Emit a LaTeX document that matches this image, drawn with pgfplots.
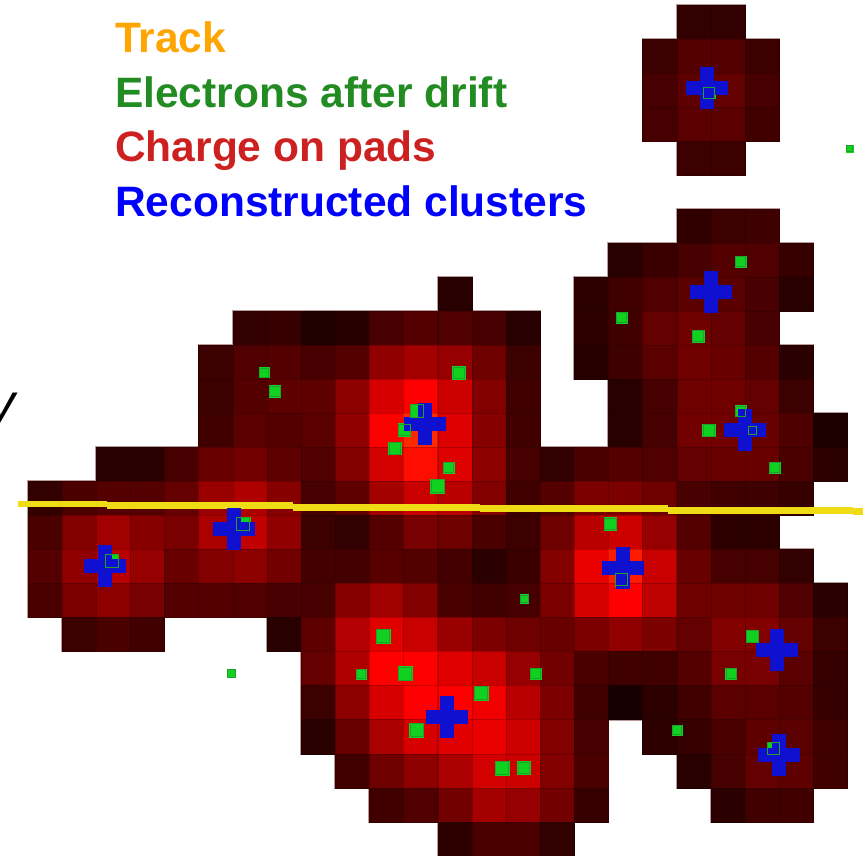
\documentclass[border=0pt]{standalone}
\usepackage{pgfplots}
\usepackage{pgfplotstable}
\usepackage{fontspec}
\setmainfont{Liberation Sans}
\pgfplotsset{compat=1.18}
\definecolor{trk}{RGB}{240,220,20}
\definecolor{elfill}{RGB}{16,208,32}
\definecolor{eledge}{RGB}{32,160,48}
\definecolor{clu}{RGB}{16,16,208}
\definecolor{padedge}{RGB}{185,155,155}
\pgfplotstableread[row sep=\\]{
c r v\\
19 0 50\\ 20 0 50\\
18 1 60\\ 19 1 85\\ 20 1 85\\ 21 1 60\\
18 2 70\\ 19 2 95\\ 20 2 100\\ 21 2 70\\
18 3 70\\ 19 3 90\\ 20 3 90\\ 21 3 65\\
19 4 60\\ 20 4 60\\
19 6 48\\ 20 6 60\\ 21 6 62\\
17 7 40\\ 18 7 58\\ 19 7 70\\ 20 7 85\\ 21 7 80\\ 22 7 55\\
12 8 40\\ 16 8 45\\ 17 8 65\\ 18 8 80\\ 19 8 90\\ 20 8 90\\ 21 8 72\\ 22 8 40\\
6 9 50\\ 7 9 55\\ 8 9 35\\ 9 9 38\\ 10 9 70\\ 11 9 85\\ 12 9 80\\ 13 9 70\\ 14 9 40\\ 16 9 45\\ 17 9 65\\ 18 9 100\\ 19 9 110\\ 20 9 100\\ 21 9 72\\
5 10 60\\ 6 10 80\\ 7 10 85\\ 8 10 70\\ 9 10 85\\ 10 10 145\\ 11 10 165\\ 12 10 150\\ 13 10 110\\ 14 10 60\\ 16 10 38\\ 17 10 62\\ 18 10 90\\ 19 10 112\\ 20 10 105\\ 21 10 85\\ 22 10 42\\
5 11 60\\ 6 11 85\\ 7 11 95\\ 8 11 95\\ 9 11 140\\ 10 11 215\\ 11 11 255\\ 12 11 205\\ 13 11 130\\ 14 11 65\\ 17 11 40\\ 18 11 70\\ 19 11 110\\ 20 11 112\\ 21 11 100\\ 22 11 60\\
5 12 65\\ 6 12 90\\ 7 12 85\\ 8 12 90\\ 9 12 145\\ 10 12 255\\ 11 12 285\\ 12 12 220\\ 13 12 135\\ 14 12 65\\ 17 12 40\\ 18 12 70\\ 19 12 115\\ 20 12 115\\ 21 12 105\\ 22 12 78\\ 23 12 28\\
2 13 40\\ 3 13 40\\ 4 13 70\\ 5 13 105\\ 6 13 115\\ 7 13 95\\ 8 13 80\\ 9 13 130\\ 10 13 210\\ 11 13 265\\ 12 13 220\\ 13 13 140\\ 14 13 70\\ 15 13 50\\ 16 13 75\\ 17 13 85\\ 18 13 80\\ 19 13 100\\ 20 13 105\\ 21 13 105\\ 22 13 75\\ 23 13 45\\
0 14 50\\ 1 14 75\\ 2 14 85\\ 3 14 85\\ 4 14 100\\ 5 14 155\\ 6 14 175\\ 7 14 135\\ 8 14 70\\ 9 14 95\\ 10 14 165\\ 11 14 200\\ 12 14 185\\ 13 14 130\\ 14 14 65\\ 15 14 85\\ 16 14 125\\ 17 14 125\\ 18 14 110\\ 19 14 72\\ 20 14 65\\ 21 14 62\\ 22 14 55\\
0 15 75\\ 1 15 130\\ 2 15 160\\ 3 15 135\\ 4 15 120\\ 5 15 170\\ 6 15 195\\ 7 15 145\\ 8 15 60\\ 9 15 50\\ 10 15 85\\ 11 15 120\\ 12 15 110\\ 13 15 75\\ 14 15 60\\ 15 15 110\\ 16 15 185\\ 17 15 205\\ 18 15 150\\ 19 15 85\\ 20 15 45\\ 21 15 45\\
0 16 85\\ 1 16 145\\ 2 16 185\\ 3 16 150\\ 4 16 105\\ 5 16 130\\ 6 16 140\\ 7 16 115\\ 8 16 68\\ 9 16 68\\ 10 16 88\\ 11 16 82\\ 12 16 68\\ 13 16 42\\ 14 16 58\\ 15 16 130\\ 16 16 235\\ 17 16 275\\ 18 16 200\\ 19 16 105\\ 20 16 70\\ 21 16 70\\ 22 16 50\\
0 17 75\\ 1 17 125\\ 2 17 140\\ 3 17 120\\ 4 17 85\\ 5 17 85\\ 6 17 80\\ 7 17 72\\ 8 17 70\\ 9 17 135\\ 10 17 160\\ 11 17 130\\ 12 17 75\\ 13 17 65\\ 14 17 70\\ 15 17 122\\ 16 17 210\\ 17 17 255\\ 18 17 190\\ 19 17 110\\ 20 17 110\\ 21 17 110\\ 22 17 80\\ 23 17 42\\
1 18 60\\ 2 18 75\\ 3 18 65\\ 7 18 40\\ 8 18 95\\ 9 18 180\\ 10 18 225\\ 11 18 200\\ 12 18 155\\ 13 18 125\\ 14 18 110\\ 15 18 105\\ 16 18 125\\ 17 18 145\\ 18 18 125\\ 19 18 100\\ 20 18 130\\ 21 18 130\\ 22 18 100\\ 23 18 60\\
8 19 100\\ 9 19 175\\ 10 19 255\\ 11 19 255\\ 12 19 225\\ 13 19 200\\ 14 19 150\\ 15 19 115\\ 16 19 75\\ 17 19 65\\ 18 19 65\\ 19 19 85\\ 20 19 120\\ 21 19 120\\ 22 19 90\\ 23 19 55\\
8 20 60\\ 9 20 140\\ 10 20 215\\ 11 20 255\\ 12 20 255\\ 13 20 240\\ 14 20 185\\ 15 20 125\\ 16 20 65\\ 17 20 25\\ 18 20 45\\ 19 20 65\\ 20 20 90\\ 21 20 90\\ 22 20 85\\ 23 20 55\\
8 21 40\\ 9 21 105\\ 10 21 170\\ 11 21 215\\ 12 21 225\\ 13 21 235\\ 14 21 205\\ 15 21 130\\ 16 21 70\\ 18 21 45\\ 19 21 55\\ 20 21 75\\ 21 21 95\\ 22 21 90\\ 23 21 65\\
9 22 65\\ 10 22 110\\ 11 22 140\\ 12 22 170\\ 13 22 210\\ 14 22 205\\ 15 22 130\\ 16 22 75\\ 19 22 40\\ 20 22 70\\ 21 22 100\\ 22 22 95\\ 23 22 65\\
10 23 65\\ 11 23 80\\ 12 23 115\\ 13 23 165\\ 14 23 150\\ 15 23 115\\ 16 23 55\\ 20 23 42\\ 21 23 65\\ 22 23 65\\
12 24 45\\ 13 24 75\\ 14 24 75\\ 15 24 50\\
}\pads
\pgfplotstableread[row sep=\\]{
x y s\\
849.5 148.5 7\\ 740.5 261.5 11\\ 621.5 317.5 11\\ 698 336 12\\ 740.5 411 11\\ 752.5 430.5 9\\
709 430.5 12.5\\ 774.5 467.5 11\\ 610.5 524 12.5\\ 621.5 579.5 13\\ 709 92.5 12\\ 112 561 13.5\\
243 524 14\\ 264 372.5 10\\ 275 391.5 11.5\\ 459 373 12.5\\ 417 411 14\\ 404.5 430 12.7\\
395 448.5 12.5\\ 448.5 467.5 11\\ 437.7 486 14\\ 524.5 599 8.5\\ 383 636 14\\ 231.5 673.5 8.5\\
361 674 10\\ 405 673.5 14\\ 535.5 673.5 11\\ 481 693 14\\ 416.7 730 14\\ 502 768 14\\ 524 768 12.5\\
752.7 636.5 12.5\\ 731 673.5 11\\ 677 730 10\\ 773.5 748.5 12.5\\
}\electrons
\pgfplotstableread[row sep=\\]{
x y\\
105 566\\ 234 529\\ 425 424\\ 623 568\\ 707 87.5\\ 711 292\\ 745 430\\ 447 717\\ 777 650\\ 779 755\\
}\clusters
\begin{document}
\begin{tikzpicture}
\begin{axis}[
  scale only axis, width=863pt, height=855pt,
  xmin=0, xmax=863, ymin=0, ymax=855, y dir=reverse,
  axis line style={draw=none}, tick style={draw=none}, xtick=\empty, ytick=\empty,
  clip marker paths=true,
  colormap={pads}{rgb255(0cm)=(0,0,0); rgb255(8.5cm)=(255,0,0); rgb255(10cm)=(255,60,0)},
  point meta min=0, point meta max=300,
]
\addplot[only marks, mark=square*, mark size=17.5pt, color=padedge, mark options={line width=0pt}]
  table[x expr=44.8+34.15*\thisrow{c}, y expr=21.7+34.04*\thisrow{r}] {\pads};
\addplot[scatter, only marks, mark=square*, mark size=17.02pt, point meta=explicit, mark options={line width=0.1pt}]
  table[x expr=44.8+34.15*\thisrow{c}, y expr=21.7+34.04*\thisrow{r}, meta=v] {\pads};
% electrons, filled
\addplot[scatter, only marks, mark=square*, point meta=0,
  scatter/use mapped color={draw=elfill, fill=elfill}, mark options={line width=0pt},
  visualization depends on={\thisrow{s}/2 \as \halfside},
  scatter/@pre marker code/.append style={/tikz/mark size=\halfside pt}]
  table[x=x, y=y] {\electrons};
% track
\addplot[trk, line width=6.8pt, no marks, unbounded coords=jump] coordinates {
 (18,504) (106.5,504) (106.5,nan) (106.5,505.8) (293,505.8) (293,nan) (293,507.3) (480,507.3) (480,nan) (480,508.7) (668,508.7) (668,nan) (668,510.3) (853,510.3) (853,nan) (853,511.7) (863,511.7)};
% clusters
\addplot[clu, only marks, mark=+, mark size=21pt, mark options={line width=14pt, line cap=butt}]
  table[x=x, y=y] {\clusters};
% electrons, outlines
\addplot[scatter, only marks, mark=square, point meta=0,
  scatter/use mapped color={draw=eledge, fill=none}, mark options={line width=1pt},
  visualization depends on={(\thisrow{s}-1)/2 \as \halfside},
  scatter/@pre marker code/.append style={/tikz/mark size=\halfside pt}]
  table[x=x, y=y] {\electrons};
\node[anchor=base west, inner sep=0pt, font=\fontsize{42.5}{42.5}\selectfont\bfseries, text={rgb,255:red,255;green,165;blue,0}] at (axis cs:115,52) {Track};
\node[anchor=base west, inner sep=0pt, font=\fontsize{42.5}{42.5}\selectfont\bfseries, text={rgb,255:red,34;green,139;blue,34}] at (axis cs:115,107) {Electrons after drift};
\node[anchor=base west, inner sep=0pt, font=\fontsize{42.5}{42.5}\selectfont\bfseries, text={rgb,255:red,205;green,33;blue,33}] at (axis cs:115,161) {Charge on pads};
\node[anchor=base west, inner sep=0pt, font=\fontsize{42.5}{42.5}\selectfont\bfseries, text={rgb,255:red,0;green,0;blue,255}] at (axis cs:115,216) {Reconstructed clusters};
\node[overlay, anchor=base east, inner sep=0pt, font=\fontsize{52}{52}\selectfont\itshape] at (axis cs:16,420) {y};
\end{axis}
\end{tikzpicture}
\end{document}
